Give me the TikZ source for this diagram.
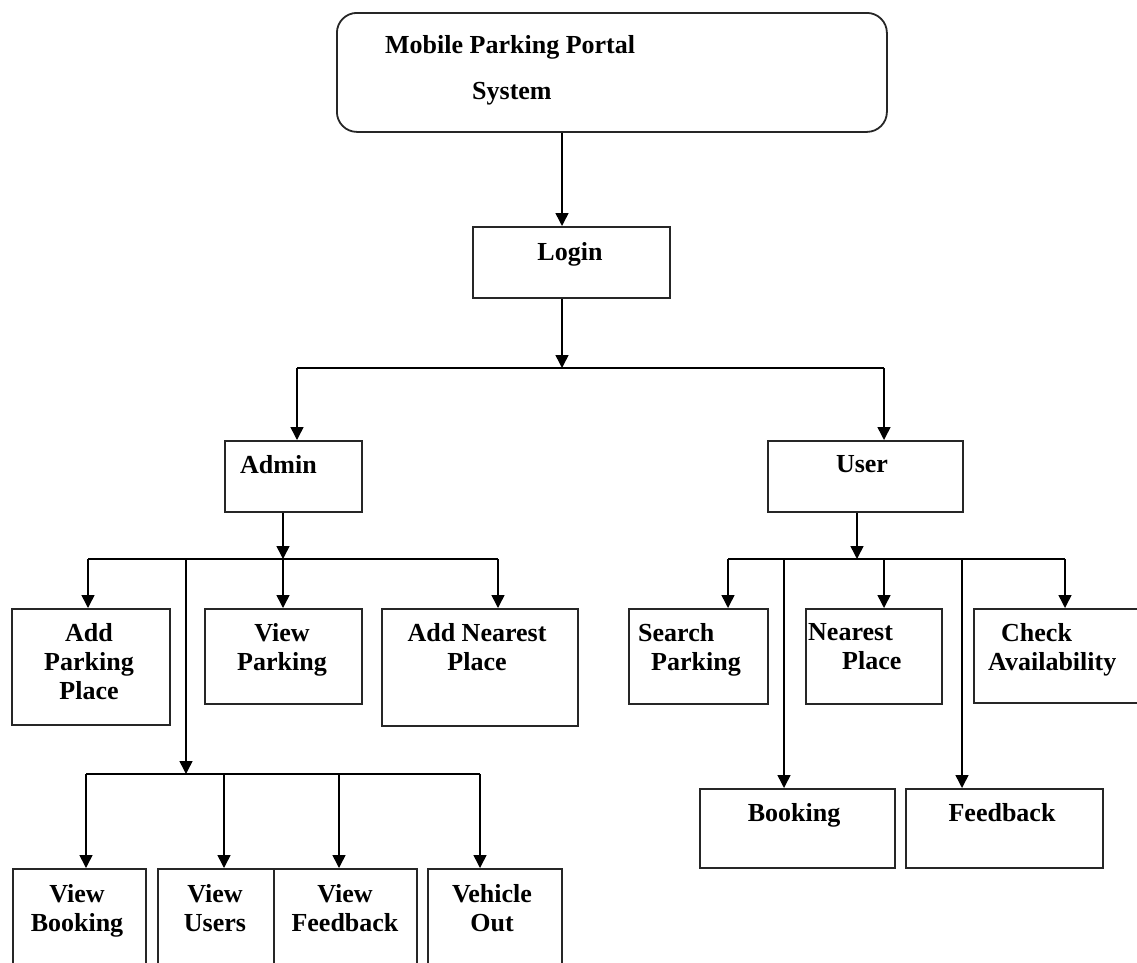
\documentclass[tikz,border=0pt]{standalone}
\usepackage{fontspec}
\setmainfont{Liberation Serif}
\usetikzlibrary{arrows.meta}
\tikzset{
  bx/.style={draw, line width=1.8pt, rectangle, inner sep=0pt, anchor=north west, draw=black!85},
  lbl/.style={font=\fontsize{26}{29}\selectfont\bfseries, inner sep=0pt, align=center, anchor=north},
  arr/.style={line width=1.5pt, -{Triangle[width=13pt,length=13pt]}},
  ln/.style={line width=1.5pt},
}
\begin{document}
\begin{tikzpicture}[x=1pt,y=-1pt]
\useasboundingbox (0,0) rectangle (1137,962);
\clip (0,0) rectangle (1137,962);
% boxes
\node[bx, rounded corners=20pt, minimum width=550pt, minimum height=119pt] (top) at (336,12) {};
\node[bx, minimum width=197pt, minimum height=71pt] (login) at (472,226) {};
\node[bx, minimum width=137pt, minimum height=71pt] (admin) at (224,440) {};
\node[bx, minimum width=195pt, minimum height=71pt] (user) at (767,440) {};
\node[bx, minimum width=158pt, minimum height=116pt] (app) at (11,608) {};
\node[bx, minimum width=157pt, minimum height=95pt] (vp) at (204,608) {};
\node[bx, minimum width=196pt, minimum height=117pt] (anp) at (381,608) {};
\node[bx, minimum width=139pt, minimum height=95pt] (sp) at (628,608) {};
\node[bx, minimum width=136pt, minimum height=95pt] (np) at (805,608) {};
\node[bx, minimum width=190pt, minimum height=94pt] (ca) at (973,608) {};
\node[bx, minimum width=195pt, minimum height=79pt] (bk) at (699,788) {};
\node[bx, minimum width=197pt, minimum height=79pt] (fb) at (905,788) {};
\node[bx, minimum width=133pt, minimum height=120pt] (vb) at (12,868) {};
\node[bx, minimum width=116pt, minimum height=120pt] (vu) at (157,868) {};
\node[bx, minimum width=143pt, minimum height=120pt] (vf) at (273,868) {};
\node[bx, minimum width=134pt, minimum height=120pt] (vo) at (427,868) {};
% labels
\node[lbl, anchor=north west] (tMobile) at (385,35) {Mobile Parking Portal};
\node[lbl, anchor=north west] (tSystem) at (472,82) {System};
\node[lbl] (tLogin) at (570,242) {Login};
\node[lbl, anchor=north west] (tAdmin) at (240,455) {Admin};
\node[lbl] (tUser) at (862,455) {User};
\node[lbl] (tApp) at (89,623) {Add\\Parking\\Place};
\node[lbl] (tVp) at (282,623) {View\\Parking};
\node[lbl] (tAnp) at (477,623) {Add Nearest\\Place};
\node[lbl, anchor=north west, align=left] (tSp) at (638,623) {Search\\\hspace*{13pt}Parking};
\node[lbl, anchor=north west, align=left] (tNp) at (808,623) {Nearest\\\hspace*{34pt}Place};
\node[lbl, anchor=north west, align=left] (tCa) at (988,623) {\hspace*{13pt}Check\\Availability};
\node[lbl] (tBk) at (794,803) {Booking};
\node[lbl] (tFb) at (1002,803) {Feedback};
\node[lbl] (tVb) at (77,884) {View\\Booking};
\node[lbl] (tVu) at (215,884) {View\\Users};
\node[lbl] (tVf) at (345,884) {View\\Feedback};
\node[lbl] (tVo) at (492,884) {Vehicle\\Out};
% junction coordinates
\coordinate (j1) at (562,368);
\coordinate (ja) at (297,368);
\coordinate (ju) at (884,368);
\coordinate (j2) at (283,559);
\coordinate (a1) at (88,559);
\coordinate (a3) at (498,559);
\coordinate (j4) at (186,774);
\coordinate (b1) at (86,774);
\coordinate (b2) at (224,774);
\coordinate (b3) at (339,774);
\coordinate (b4) at (480,774);
\coordinate (j3) at (857,559);
\coordinate (u1) at (728,559);
\coordinate (u2) at (784,559);
\coordinate (u3) at (884,559);
\coordinate (u4) at (962,559);
\coordinate (u5) at (1065,559);
% connectors
\draw[arr] (top.south -| j1) -- (login.north -| j1);
\draw[arr] (login.south -| j1) -- (j1);
\draw[ln] (ja) -- (ju);
\draw[arr] (ja) -- (admin.north -| ja);
\draw[arr] (ju) -- (user.north -| ju);
\draw[arr] (admin.south -| j2) -- (j2);
\draw[ln] (a1) -- (a3);
\draw[arr] (a1) -- (app.north -| a1);
\draw[arr] (j2) -- (vp.north -| j2);
\draw[arr] (a3) -- (anp.north -| a3);
\draw[arr] (j2 -| j4) -- (j4);
\draw[ln] (b1) -- (b4);
\draw[arr] (b1) -- (vb.north -| b1);
\draw[arr] (b2) -- (vu.north -| b2);
\draw[arr] (b3) -- (vf.north -| b3);
\draw[arr] (b4) -- (vo.north -| b4);
\draw[arr] (user.south -| j3) -- (j3);
\draw[ln] (u1) -- (u5);
\draw[arr] (u1) -- (sp.north -| u1);
\draw[arr] (u2) -- (bk.north -| u2);
\draw[arr] (u3) -- (np.north -| u3);
\draw[arr] (u4) -- (fb.north -| u4);
\draw[arr] (u5) -- (ca.north -| u5);
\end{tikzpicture}
\end{document}
